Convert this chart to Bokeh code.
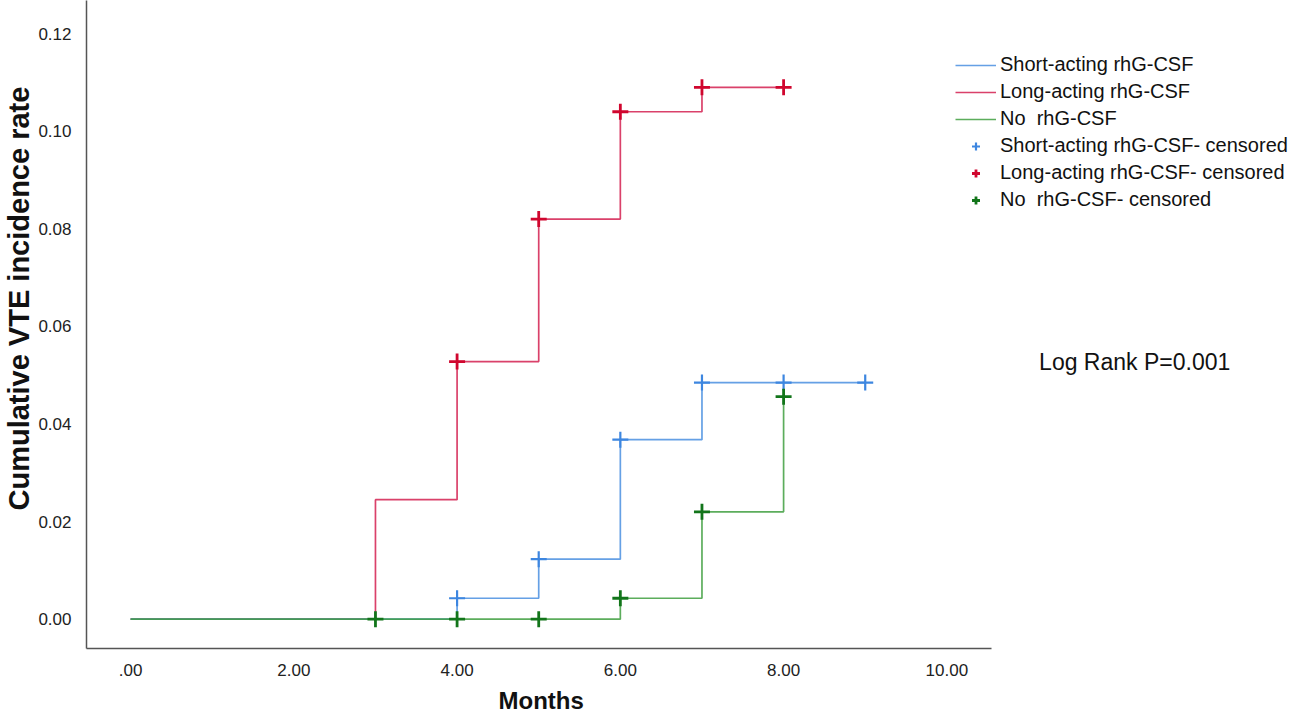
from bokeh.plotting import figure
from bokeh.models import Range1d, FixedTicker, Legend, LegendItem, Label, Title
from bokeh.embed import file_html
from bokeh.resources import INLINE

# ---- data ----
short_t = [0, 4, 5, 6, 7, 9]
short_v = [0.0, 0.0043, 0.0123, 0.0368, 0.0485, 0.0485]
short_cens_t = [4, 5, 6, 7, 8, 9]
short_cens_v = [0.0043, 0.0123, 0.0368, 0.0485, 0.0485, 0.0485]

long_t = [0, 3, 4, 5, 6, 7, 8]
long_v = [0.0, 0.0245, 0.0528, 0.0820, 0.1040, 0.1090, 0.1090]
long_cens_t = [4, 5, 6, 7, 8]
long_cens_v = [0.0528, 0.0820, 0.1040, 0.1090, 0.1090]

no_t = [0, 6, 7, 8]
no_v = [0.0, 0.0043, 0.0220, 0.0456]
no_cens_t = [3, 4, 5, 6, 7, 8]
no_cens_v = [0.0, 0.0, 0.0, 0.0043, 0.0220, 0.0456]

x_ticks = [0, 2, 4, 6, 8, 10]
x_tick_labels = [".00", "2.00", "4.00", "6.00", "8.00", "10.00"]
y_ticks = [0.0, 0.02, 0.04, 0.06, 0.08, 0.10, 0.12]
y_tick_labels = ["0.00", "0.02", "0.04", "0.06", "0.08", "0.10", "0.12"]

names = ["Short-acting rhG-CSF", "Long-acting rhG-CSF", "No  rhG-CSF"]
stat_text = "Log Rank P=0.001"
x_title = "Months"
y_title = "Cumulative VTE incidence rate"

FONT = "Liberation Sans"
c_short, c_long, c_no = "#4a8fe0", "#d42050", "#3f9f3f"
m_short, m_long, m_no = "#3d86e0", "#d0062e", "#12751a"

X_START, X_END_AXIS, X_END = -0.54, 10.55, 14.21

p = figure(width=1290, height=722, output_backend="svg", toolbar_location=None,
           x_range=Range1d(X_START, X_END), y_range=Range1d(-0.006, 0.1268),
           min_border_left=86, min_border_right=0, min_border_top=0,
           min_border_bottom=74)
p.outline_line_color = None
p.xgrid.visible = False
p.ygrid.visible = False

for ax in (p.xaxis[0], p.yaxis[0]):
    ax.major_tick_line_color = None
    ax.minor_tick_line_color = None
    ax.axis_line_color = "#555555"
    ax.axis_line_width = 1.5
    ax.major_label_text_font = FONT
    ax.major_label_text_font_size = "17px"
    ax.major_label_text_color = "#222222"

p.xaxis.bounds = (X_START, X_END_AXIS)
p.xaxis.ticker = FixedTicker(ticks=x_ticks)
p.xaxis.major_label_overrides = dict(zip(x_ticks, x_tick_labels))
p.yaxis.ticker = FixedTicker(ticks=y_ticks)
p.yaxis.major_label_overrides = dict(zip(y_ticks, y_tick_labels))
p.xaxis.major_label_standoff = 9
p.yaxis.major_label_standoff = 9

p.add_layout(Title(text=x_title, align="left", offset=412, standoff=13,
                   text_font=FONT, text_font_size="24px", text_font_style="bold",
                   text_color="#111111"), "below")
p.add_layout(Title(text=y_title, align="left", offset=138, standoff=1,
                   text_font=FONT, text_font_size="29px", text_font_style="bold",
                   text_color="#111111"), "left")

r_long = p.step(long_t, long_v, mode="after", line_color=c_long, line_width=1.7, line_alpha=0.85)
r_short = p.step(short_t, short_v, mode="after", line_color=c_short, line_width=1.7, line_alpha=0.85)
r_no = p.step(no_t, no_v, mode="after", line_color=c_no, line_width=1.7, line_alpha=0.85)

rc_short = p.scatter(short_cens_t, short_cens_v, marker="cross", size=16, line_color=m_short, line_width=2.2)
rc_long = p.scatter(long_cens_t, long_cens_v, marker="cross", size=16, line_color=m_long, line_width=2.8)
rc_no = p.scatter(no_cens_t, no_cens_v, marker="cross", size=16, line_color=m_no, line_width=2.8)

legend = Legend(items=[
    LegendItem(label=names[0], renderers=[r_short]),
    LegendItem(label=names[1], renderers=[r_long]),
    LegendItem(label=names[2], renderers=[r_no]),
    LegendItem(label=names[0] + "- censored", renderers=[rc_short]),
    LegendItem(label=names[1] + "- censored", renderers=[rc_long]),
    LegendItem(label=names[2] + "- censored", renderers=[rc_no]),
], location=(869, 437), margin=0, label_text_font=FONT, label_text_font_size="20px",
    label_text_color="#111111", glyph_width=41, glyph_height=20, spacing=4,
    label_standoff=4, padding=4, border_line_color=None, background_fill_alpha=0,
    label_height=20)
p.add_layout(legend)

p.add_layout(Label(x=11.13, y=0.0528, text=stat_text, text_font=FONT,
                   text_font_size="23px", text_color="#111111",
                   text_baseline="middle", text_align="left"))

open("out.html", "w").write(file_html(p, INLINE))
